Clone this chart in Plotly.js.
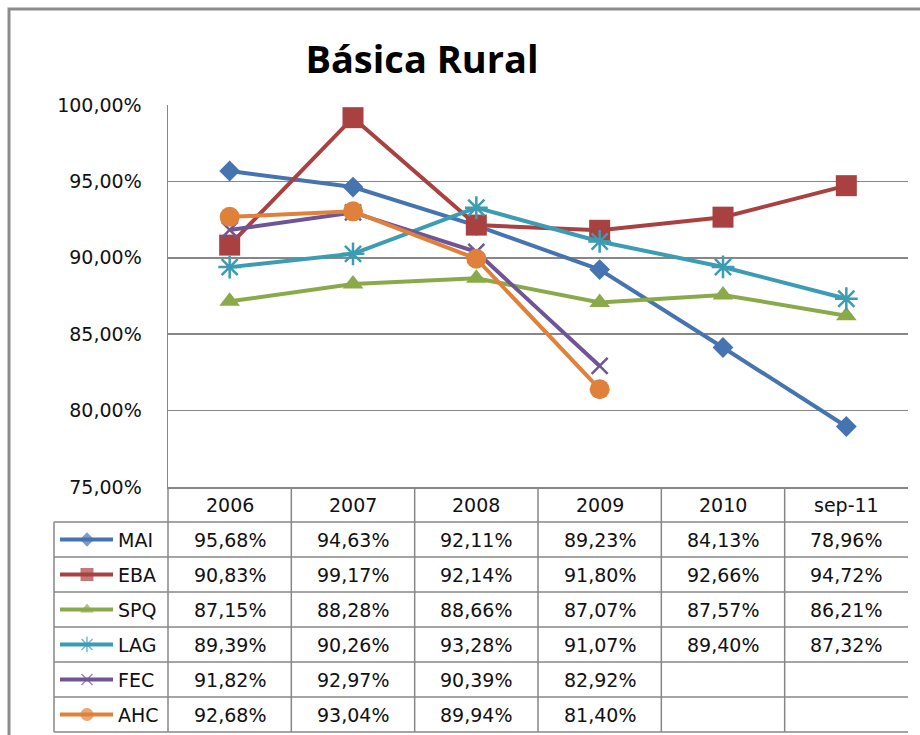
<!DOCTYPE html>
<html>
<head>
<meta charset="utf-8">
<script src="https://cdn.plot.ly/plotly-3.0.1.min.js"></script>
<style>
  html, body { margin: 0; padding: 0; background: #fff; }
  #myDiv { width: 920px; height: 735px; }
</style>
</head>
<body>
<div id="myDiv"></div>
<script>
var categories = ['2006', '2007', '2008', '2009', '2010', 'sep-11'];
var seriesNames = ['MAI', 'EBA', 'SPQ', 'LAG', 'FEC', 'AHC'];
var mai = [95.68, 94.63, 92.11, 89.23, 84.13, 78.96];
var eba = [90.83, 99.17, 92.14, 91.80, 92.66, 94.72];
var spq = [87.15, 88.28, 88.66, 87.07, 87.57, 86.21];
var lag = [89.39, 90.26, 93.28, 91.07, 89.40, 87.32];
var fec = [91.82, 92.97, 90.39, 82.92, null, null];
var ahc = [92.68, 93.04, 89.94, 81.40, null, null];
var seriesValues = [mai, eba, spq, lag, fec, ahc];

// styles
var colors = ['#4674B0', '#A8413F', '#8AAA4A', '#3C9CB4', '#6F5597', '#E0813B'];
var symbols = ['diamond', 'square', 'triangle-up', 'asterisk-open', 'x-thin-open', 'circle'];
var markerSizes = [16, 21, 18, 19, 16, 20];
var keySizes = [11, 13, 12, 13, 11, 13];
var gridColor = '#878787';
var textColor = '#111';
var tableFont = {family: 'DejaVu Sans, Verdana, sans-serif', size: 19, color: textColor};

// page geometry in pixels
var W = 920, H = 735;
var plotL = 168, plotR = 908, plotT = 105, plotB = 487;
var keyL = 54, rowH = 35, nRows = 7;
var ppu = (plotR - plotL) / categories.length;   // px per category
var t2L = 50, t2R = 912;                          // table subplot, padded

function fmt(v) {
  return v === null ? '' : v.toFixed(2).replace('.', ',') + '%';
}
function px2x(p) { return (p - plotL) / ppu - 0.5; }

var data = [];
seriesValues.forEach(function (vals, i) {
  var open = symbols[i].indexOf('open') >= 0;
  data.push({
    x: categories,
    y: vals,
    name: seriesNames[i],
    type: 'scatter',
    mode: 'lines+markers',
    connectgaps: false,
    line: {color: colors[i], width: 4},
    marker: {
      symbol: symbols[i], size: markerSizes[i], color: colors[i],
      line: {color: colors[i], width: open ? 2.5 : 0}
    },
    xaxis: 'x', yaxis: 'y',
    showlegend: false
  });
  // legend key inside the table's first column
  data.push({
    x: [px2x(60), px2x(87), px2x(113)],
    y: [i + 1.5, i + 1.5, i + 1.5],
    type: 'scatter',
    mode: 'lines+markers',
    line: {color: colors[i], width: 4},
    marker: {
      symbol: symbols[i], size: [0, keySizes[i], 0], color: colors[i],
      line: {color: colors[i], width: open ? 1.5 : 0}
    },
    xaxis: 'x2', yaxis: 'y2',
    showlegend: false, hoverinfo: 'skip'
  });
});

var annotations = [];
categories.forEach(function (c, j) {
  annotations.push({
    xref: 'x2', yref: 'y2', x: j, y: 0.5, text: c,
    showarrow: false, xanchor: 'center', yanchor: 'middle', font: tableFont
  });
});
seriesValues.forEach(function (vals, i) {
  annotations.push({
    xref: 'x2', yref: 'y2', x: px2x(116), y: i + 1.5, text: seriesNames[i],
    showarrow: false, xanchor: 'left', yanchor: 'middle', font: tableFont
  });
  vals.forEach(function (v, j) {
    annotations.push({
      xref: 'x2', yref: 'y2', x: j, y: i + 1.5, text: fmt(v),
      showarrow: false, xanchor: 'center', yanchor: 'middle', font: tableFont
    });
  });
});

var shapes = [];
var tl = {color: gridColor, width: 1.5};
// horizontal table rules
for (var r = 1; r <= nRows; r++) {
  shapes.push({type: 'line', xref: 'x2', yref: 'y2', x0: px2x(keyL), x1: 5.5, y0: r, y1: r, line: tl});
}
// vertical table rules
shapes.push({type: 'line', xref: 'x2', yref: 'y2', x0: px2x(keyL), x1: px2x(keyL), y0: 1, y1: nRows, line: tl});
for (var c = 0; c < categories.length; c++) {
  shapes.push({type: 'line', xref: 'x2', yref: 'y2', x0: c - 0.5, x1: c - 0.5, y0: 0, y1: nRows, line: tl});
}
// outer chart frame
shapes.push({
  type: 'rect', xref: 'paper', yref: 'paper',
  x0: 9 / W, x1: 940 / W, y0: -10 / H, y1: 1 - 9 / H,
  line: {color: '#8c8c8c', width: 3}
});

var layout = {
  width: W, height: H,
  margin: {l: 0, r: 0, t: 0, b: 0},
  paper_bgcolor: '#fff', plot_bgcolor: 'rgba(0,0,0,0)',
  separators: ',.',
  title: {
    text: 'Básica Rural',
    font: {family: 'Open Sans, sans-serif', size: 38, weight: 700, color: '#000'},
    x: 422 / W, xanchor: 'center', y: 1 - 60 / H, yanchor: 'middle'
  },
  xaxis: {
    domain: [plotL / W, plotR / W], type: 'category', categoryarray: categories,
    range: [-0.5, categories.length - 0.5],
    showticklabels: false, showgrid: false, zeroline: false,
    showline: true, linecolor: gridColor, linewidth: 1.5, ticks: '',
    anchor: 'y', fixedrange: true
  },
  yaxis: {
    domain: [1 - plotB / H, 1 - plotT / H], range: [75, 100],
    tick0: 75, dtick: 5, tickformat: '.2f', ticksuffix: '%',
    showgrid: true, gridcolor: gridColor, gridwidth: 1.5, zeroline: false,
    showline: true, linecolor: gridColor, linewidth: 1.5, ticks: '',
    ticklabelstandoff: 21,
    tickfont: {family: 'DejaVu Sans, Verdana, sans-serif', size: 19, color: textColor},
    anchor: 'x', fixedrange: true
  },
  xaxis2: {
    domain: [t2L / W, t2R / W], range: [px2x(t2L), px2x(t2R)],
    visible: false, anchor: 'y2', fixedrange: true
  },
  yaxis2: {
    domain: [0, 1 - plotB / H], range: [(H - plotB) / rowH, 0],
    visible: false, anchor: 'x2', fixedrange: true
  },
  annotations: annotations,
  shapes: shapes,
  showlegend: false
};

Plotly.newPlot('myDiv', data, layout, {displayModeBar: false, staticPlot: true});
</script>
</body>
</html>
